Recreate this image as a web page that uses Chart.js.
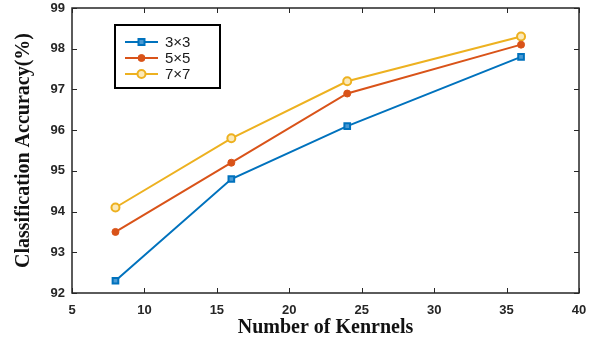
<!DOCTYPE html>
<html><head><meta charset="utf-8">
<script src="https://cdn.jsdelivr.net/npm/chart.js@4/dist/chart.umd.min.js"></script>
<style>html,body{margin:0;padding:0;background:#fff;}#wrap{width:597px;height:344px;}</style>
</head><body><div id="wrap"><canvas id="c" width="597" height="344"></canvas></div>
<script>
const kernels = [8, 16, 24, 36];
const acc3x3 = [92.3, 94.8, 96.1, 97.8];
const acc5x5 = [93.5, 95.2, 96.9, 98.1];
const acc7x7 = [94.1, 95.8, 97.2, 98.3];
const seriesLabels = ['3×3', '5×5', '7×7'];
const xTicks = [5, 10, 15, 20, 25, 30, 35, 40];
const yTicks = [92, 93, 94, 95, 96, 97, 98, 99];

const toPts = arr => kernels.map((k, i) => ({x: k, y: arr[i]}));

const boxTicks = {
  id: 'boxTicks',
  afterDatasetsDraw(chart) {
    const {ctx, chartArea: a, scales: {x, y}} = chart;
    ctx.save();
    ctx.strokeStyle = '#262626';
    ctx.lineWidth = 1.5;
    ctx.strokeRect(a.left, a.top, a.right - a.left, a.bottom - a.top);
    ctx.lineWidth = 1;
    const L = 5;
    ctx.beginPath();
    xTicks.forEach(v => {
      const px = Math.round(x.getPixelForValue(v)) + 0.5;
      ctx.moveTo(px, a.bottom); ctx.lineTo(px, a.bottom - L);
      ctx.moveTo(px, a.top); ctx.lineTo(px, a.top + L);
    });
    yTicks.forEach(v => {
      const py = Math.round(y.getPixelForValue(v)) + 0.5;
      ctx.moveTo(a.left, py); ctx.lineTo(a.left + L, py);
      ctx.moveTo(a.right, py); ctx.lineTo(a.right - L, py);
    });
    ctx.stroke();
    // legend
    const bx = a.left + 43, by = 25, bw = 105, bh = 63;
    ctx.fillStyle = '#fff';
    ctx.fillRect(bx, by, bw, bh);
    ctx.strokeStyle = '#000';
    ctx.lineWidth = 2;
    ctx.strokeRect(bx, by, bw, bh);
    chart.data.datasets.forEach((ds, i) => {
      const ry = by + 17 + i * 16;
      ctx.strokeStyle = ds.borderColor;
      ctx.lineWidth = 2;
      ctx.beginPath(); ctx.moveTo(bx + 10, ry); ctx.lineTo(bx + 43, ry); ctx.stroke();
      const cx = bx + 26.5;
      ctx.fillStyle = ds.pointBackgroundColor;
      ctx.strokeStyle = ds.pointBorderColor;
      ctx.lineWidth = ds.pointBorderWidth;
      if (ds.pointStyle === 'rect') {
        ctx.fillRect(cx - 3, ry - 3, 6, 6); ctx.strokeRect(cx - 3, ry - 3, 6, 6);
      } else {
        ctx.beginPath(); ctx.arc(cx, ry, ds.pointRadius, 0, Math.PI * 2); ctx.fill(); ctx.stroke();
      }
      ctx.fillStyle = '#1a1a1a';
      ctx.font = '15px "Liberation Sans", Arial, sans-serif';
      ctx.textBaseline = 'middle';
      ctx.textAlign = 'left';
      ctx.fillText(ds.label, bx + 50, ry + 1);
    });
    ctx.restore();
  }
};

new Chart(document.getElementById('c'), {
  type: 'line',
  data: {
    datasets: [
      {label: seriesLabels[0], data: toPts(acc3x3), borderColor: '#0072BD', backgroundColor: '#0072BD',
       pointStyle: 'rect', pointRadius: 4, pointBackgroundColor: '#4a9ad4', pointBorderColor: '#0072BD', pointBorderWidth: 2, borderWidth: 2},
      {label: seriesLabels[1], data: toPts(acc5x5), borderColor: '#D95319', backgroundColor: '#D95319',
       pointStyle: 'circle', pointRadius: 3.5, pointBackgroundColor: '#D95319', pointBorderColor: '#D95319', pointBorderWidth: 1, borderWidth: 2},
      {label: seriesLabels[2], data: toPts(acc7x7), borderColor: '#EDB120', backgroundColor: '#EDB120',
       pointStyle: 'circle', pointRadius: 4, pointBackgroundColor: '#fbe9b8', pointBorderColor: '#EDB120', pointBorderWidth: 2, borderWidth: 2}
    ]
  },
  options: {
    responsive: false,
    animation: false,
    layout: {padding: {left: 0, top: 8, right: 18, bottom: 0}},
    plugins: {legend: {display: false}, tooltip: {enabled: false}},
    scales: {
      x: {
        type: 'linear', min: 5, max: 40,
        afterBuildTicks: s => { s.ticks = xTicks.map(v => ({value: v})); },
        afterFit: s => { s.height = 51; s.paddingLeft = 0; s.paddingRight = 0; },
        grid: {display: false, drawTicks: false},
        border: {display: false},
        ticks: {padding: 10, color: '#262626', font: {family: '"Liberation Sans", Arial, sans-serif', size: 13, weight: 'bold'}},
        title: {display: true, text: 'Number of Kenrnels', color: '#111',
          font: {family: '"Liberation Serif", "Times New Roman", serif', size: 20, weight: 'bold'}, padding: {top: 0, bottom: 4}}
      },
      y: {
        type: 'linear', min: 92, max: 99,
        afterBuildTicks: s => { s.ticks = yTicks.map(v => ({value: v})); },
        afterFit: s => { s.width = 72; s.paddingTop = 0; s.paddingBottom = 0; },
        grid: {display: false, drawTicks: false},
        border: {display: false},
        ticks: {padding: 7, color: '#262626', font: {family: '"Liberation Sans", Arial, sans-serif', size: 13, weight: 'bold'}},
        title: {display: true, text: 'Classification Accuracy(%)', color: '#111',
          font: {family: '"Liberation Serif", "Times New Roman", serif', size: 20, weight: 'bold'}, padding: {top: 12, bottom: 6}}
      }
    }
  },
  plugins: [boxTicks]
});
</script></body></html>
